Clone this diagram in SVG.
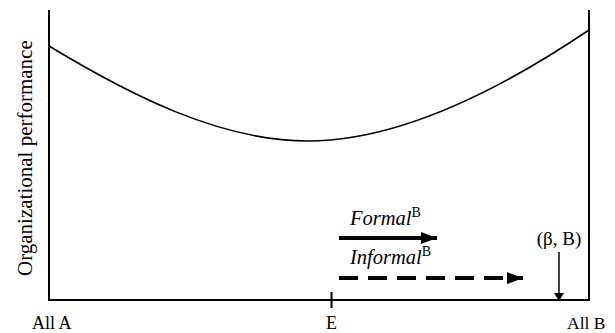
<svg xmlns="http://www.w3.org/2000/svg" width="615" height="333" viewBox="0 0 615 333">
<style>
.ax{stroke:#000;stroke-width:2;fill:none}
.t{font-family:"Liberation Serif","Times New Roman",serif;fill:#000}
.it{font-style:italic}
</style>
<defs>
<marker id="hd" markerWidth="4" markerHeight="3" refX="4" refY="1.5" orient="auto" markerUnits="strokeWidth"><path d="M0,0 L4,1.5 L0,3 z" fill="#000"/></marker>
<marker id="hs" markerWidth="8" markerHeight="10" refX="7" refY="5" orient="auto" markerUnits="userSpaceOnUse"><path d="M0,0 L8,5 L0,10 z" fill="#000"/></marker>
</defs>
<rect width="615" height="333" fill="#fff"/>
<g id="axes">
<path class="ax" d="M49,10 V300 H589 V10"/>
<path class="ax" d="M331.5,292 V308" stroke-width="1.5"/>
</g>
<g id="curve">
<path d="M49,46 C130,95 220,141 308,141 C400,141 500,90 589,30" fill="none" stroke="#000" stroke-width="1.6"/>
</g>
<g id="labels">
<text class="t" x="32" y="329" font-size="18">All A</text>
<text class="t" x="331.5" y="329" font-size="18" text-anchor="middle">E</text>
<text class="t" x="567" y="329" font-size="17.5">All B</text>
<text class="t" font-size="21" transform="translate(32,276) rotate(-90)">Organizational performance</text>
</g>
<g id="formal">
<text class="t" x="350" y="225" font-size="20.5"><tspan class="it">Formal</tspan><tspan font-size="14" dy="-8">B</tspan></text>
</g>
<g id="informal">
<text class="t" x="350" y="264" font-size="20.5"><tspan class="it">Informal</tspan><tspan font-size="14" dy="-8">B</tspan></text>
</g>
<g id="beta">
<text class="t" x="559" y="245" font-size="19" text-anchor="middle">(β, B)</text>
</g>
<g id="connectors">
<line x1="339" y1="238" x2="437" y2="238" stroke="#000" stroke-width="4" marker-end="url(#hd)"/>
<line x1="339" y1="278" x2="523" y2="278" stroke="#000" stroke-width="4" stroke-dasharray="19,10" marker-end="url(#hd)"/>
<line x1="559" y1="252" x2="559" y2="300" stroke="#000" stroke-width="1.5" marker-end="url(#hs)"/>
</g>
</svg>
